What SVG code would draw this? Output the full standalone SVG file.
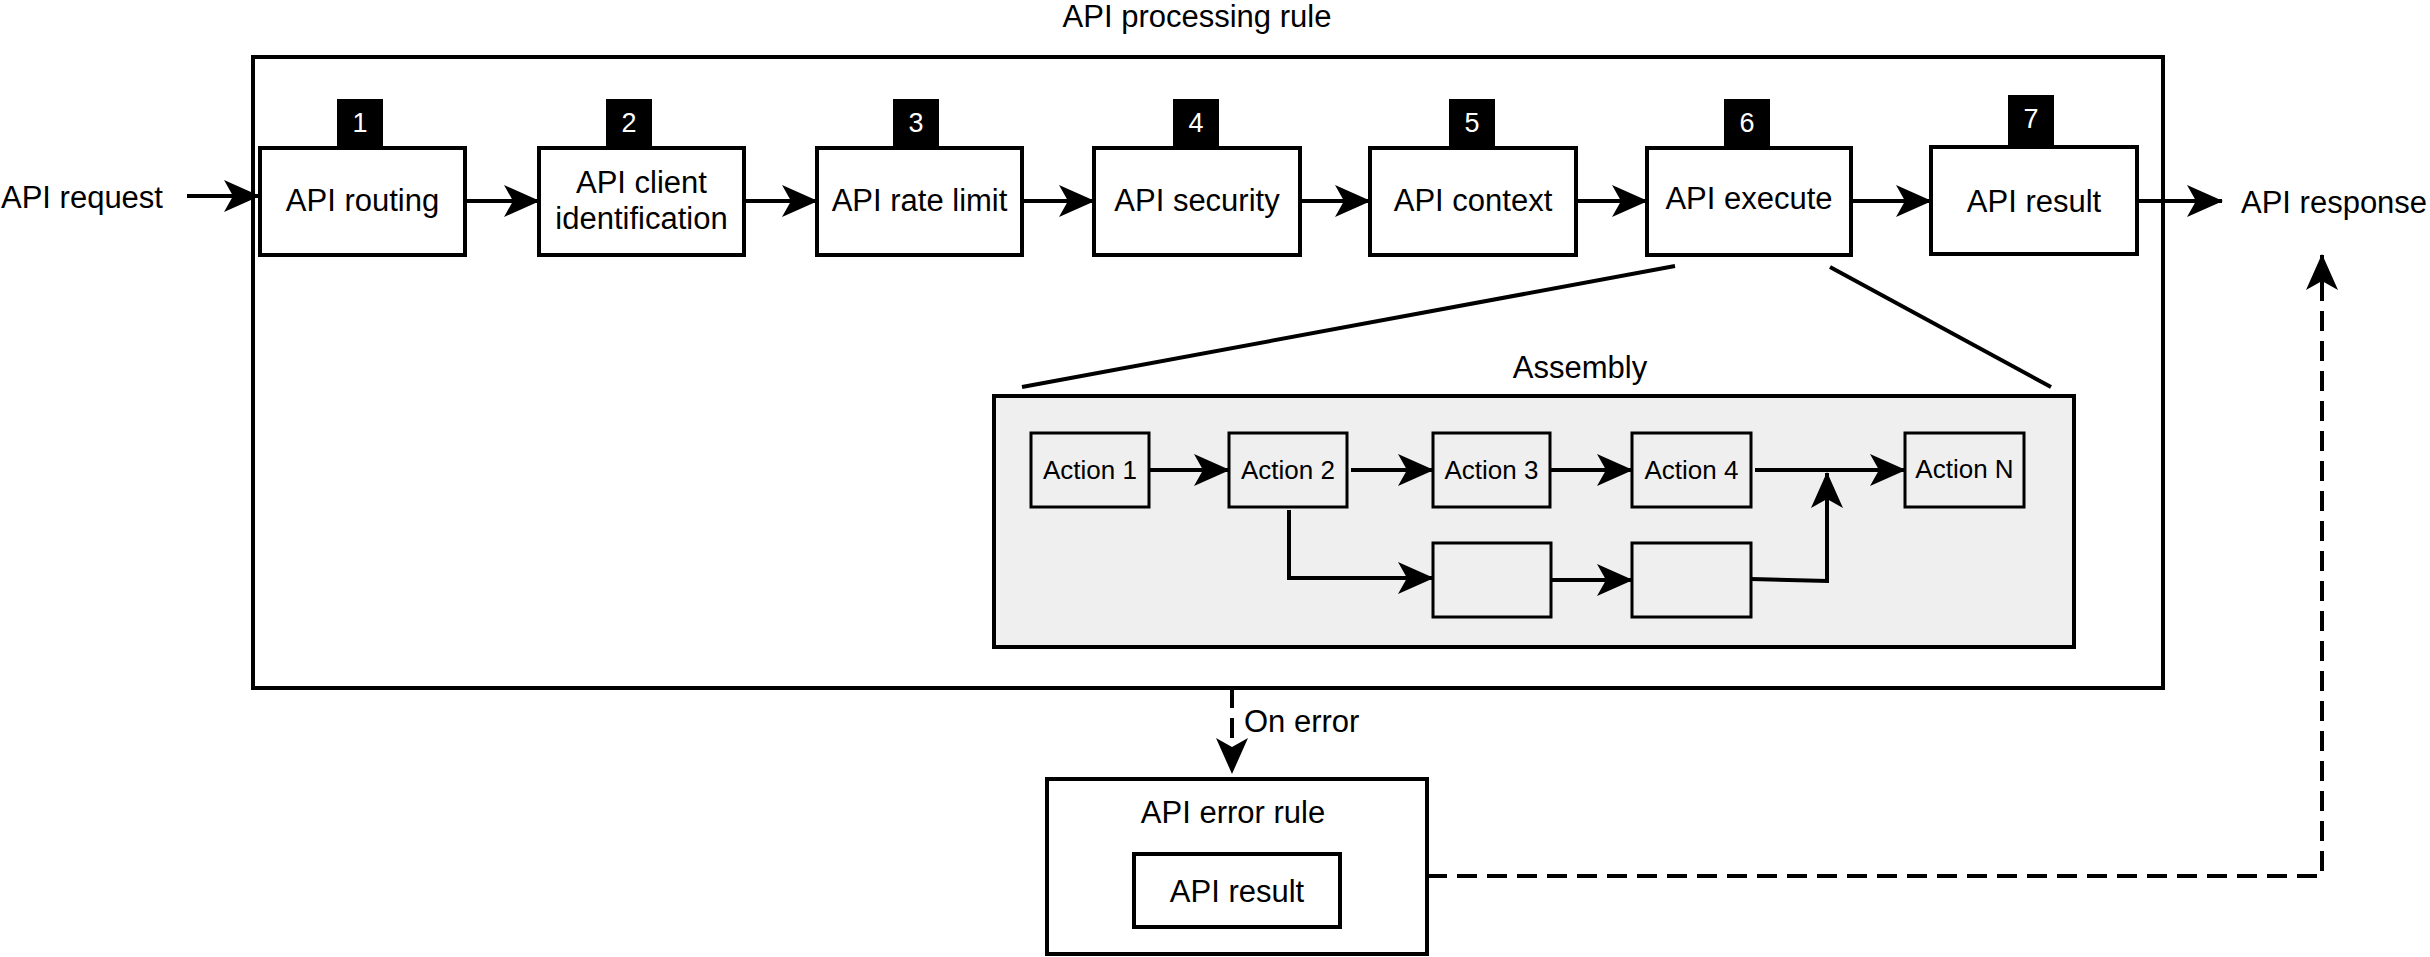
<svg xmlns="http://www.w3.org/2000/svg" width="2430" height="957" viewBox="0 0 2430 957">
<style>
text{font-family:"Liberation Sans",Arial,Helvetica,sans-serif;fill:#000}
.lbl{font-size:31px;text-anchor:middle;dominant-baseline:central}
.big{font-size:31px}
.act{font-size:26px;text-anchor:middle;dominant-baseline:central}
.num{font-size:27px;fill:#fff;text-anchor:middle;dominant-baseline:central}
.box{fill:#fff;stroke:#000;stroke-width:4}
.abox{fill:#efefef;stroke:#000;stroke-width:3}
.badge{fill:#000}
.ln{fill:none;stroke:#000;stroke-width:4}
.dash{fill:none;stroke:#000;stroke-width:4;stroke-dasharray:20 10}
</style>
<defs>
<marker id="arr" markerUnits="userSpaceOnUse" markerWidth="36" markerHeight="32" viewBox="0 0 36 32" refX="35" refY="16" orient="auto">
<path d="M0,0 L36,16 L0,32 L9,16 Z" fill="#000"/>
</marker>
</defs>

<text class="big" x="1197" y="27" text-anchor="middle">API processing rule</text>
<g id="processing-rule"><rect x="253" y="57" width="1910" height="631" fill="none" stroke="#000" stroke-width="4"/></g>

<g id="api-request"><text class="big" x="1" y="197" dominant-baseline="central">API request</text></g>
<g id="api-response"><text class="big" x="2241" y="202" dominant-baseline="central">API response</text></g>

<g id="step1"><rect class="badge" x="337" y="99" width="46" height="49"/><text class="num" x="360" y="123">1</text><rect class="box" x="260" y="148" width="205" height="107"/><text class="lbl" x="362.5" y="200">API routing</text></g>
<g id="step2"><rect class="badge" x="606" y="99" width="46" height="49"/><text class="num" x="629" y="123">2</text><rect class="box" x="539" y="148" width="205" height="107"/><text class="lbl" x="641.5" y="182">API client</text><text class="lbl" x="641.5" y="218">identification</text></g>
<g id="step3"><rect class="badge" x="893" y="99" width="46" height="49"/><text class="num" x="916" y="123">3</text><rect class="box" x="817" y="148" width="205" height="107"/><text class="lbl" x="919.5" y="200">API rate limit</text></g>
<g id="step4"><rect class="badge" x="1173" y="99" width="46" height="49"/><text class="num" x="1196" y="123">4</text><rect class="box" x="1094" y="148" width="206" height="107"/><text class="lbl" x="1197" y="200">API security</text></g>
<g id="step5"><rect class="badge" x="1449" y="99" width="46" height="49"/><text class="num" x="1472" y="123">5</text><rect class="box" x="1370" y="148" width="206" height="107"/><text class="lbl" x="1473" y="200">API context</text></g>
<g id="step6"><rect class="badge" x="1724" y="99" width="46" height="49"/><text class="num" x="1747" y="123">6</text><rect class="box" x="1647" y="148" width="204" height="107"/><text class="lbl" x="1749" y="198">API execute</text></g>
<g id="step7"><rect class="badge" x="2008" y="95" width="46" height="51"/><text class="num" x="2031" y="119">7</text><rect class="box" x="1931" y="147" width="206" height="107"/><text class="lbl" x="2034" y="201">API result</text></g>

<g id="assembly">
<text class="big" x="1580" y="378" text-anchor="middle">Assembly</text>
<rect x="994" y="396" width="1080" height="251" fill="#efefef" stroke="#000" stroke-width="4"/>
</g>
<g id="action1"><rect class="abox" x="1031" y="433" width="118" height="74"/><text class="act" x="1090" y="470">Action 1</text></g>
<g id="action2"><rect class="abox" x="1229" y="433" width="118" height="74"/><text class="act" x="1288" y="470">Action 2</text></g>
<g id="action3"><rect class="abox" x="1433" y="433" width="117" height="74"/><text class="act" x="1491.5" y="470">Action 3</text></g>
<g id="action4"><rect class="abox" x="1632" y="433" width="119" height="74"/><text class="act" x="1691.5" y="470">Action 4</text></g>
<g id="actionN"><rect class="abox" x="1905" y="433" width="119" height="74"/><text class="act" x="1964.5" y="469">Action N</text></g>
<g id="actionA"><rect class="abox" x="1433" y="543" width="118" height="74"/></g>
<g id="actionB"><rect class="abox" x="1632" y="543" width="119" height="74"/></g>

<g id="error-rule">
<rect class="box" x="1047" y="779" width="380" height="175"/>
<text class="big" x="1233" y="812" text-anchor="middle" dominant-baseline="central">API error rule</text>
<rect class="box" x="1134" y="854" width="206" height="73"/>
<text class="lbl" x="1237" y="891">API result</text>
</g>

<g id="connectors">
<line class="ln" x1="187" y1="196" x2="259" y2="196" marker-end="url(#arr)"/>
<line class="ln" x1="465" y1="201" x2="539" y2="201" marker-end="url(#arr)"/>
<line class="ln" x1="744" y1="201" x2="817" y2="201" marker-end="url(#arr)"/>
<line class="ln" x1="1022" y1="201" x2="1094" y2="201" marker-end="url(#arr)"/>
<line class="ln" x1="1300" y1="201" x2="1370" y2="201" marker-end="url(#arr)"/>
<line class="ln" x1="1576" y1="201" x2="1647" y2="201" marker-end="url(#arr)"/>
<line class="ln" x1="1851" y1="201" x2="1931" y2="201" marker-end="url(#arr)"/>
<line class="ln" x1="2137" y1="201" x2="2222" y2="201" marker-end="url(#arr)"/>
<line class="ln" x1="1675" y1="266" x2="1022" y2="387"/>
<line class="ln" x1="1830" y1="267" x2="2051" y2="387"/>
<line class="ln" x1="1149" y1="470" x2="1229" y2="470" marker-end="url(#arr)"/>
<line class="ln" x1="1351" y1="470" x2="1433" y2="470" marker-end="url(#arr)"/>
<line class="ln" x1="1550" y1="470" x2="1632" y2="470" marker-end="url(#arr)"/>
<line class="ln" x1="1755" y1="470" x2="1905" y2="470" marker-end="url(#arr)"/>
<path class="ln" d="M1289,510 V578 H1433" marker-end="url(#arr)"/>
<line class="ln" x1="1551" y1="580" x2="1632" y2="580" marker-end="url(#arr)"/>
<path class="ln" d="M1751,579 L1827,581 V473" marker-end="url(#arr)"/>
<line class="dash" x1="1232" y1="688" x2="1232" y2="773" marker-end="url(#arr)"/>
<text class="big" x="1244" y="732">On error</text>
<path class="dash" d="M1427,876 H2322 V255" marker-end="url(#arr)"/>
</g>
</svg>
